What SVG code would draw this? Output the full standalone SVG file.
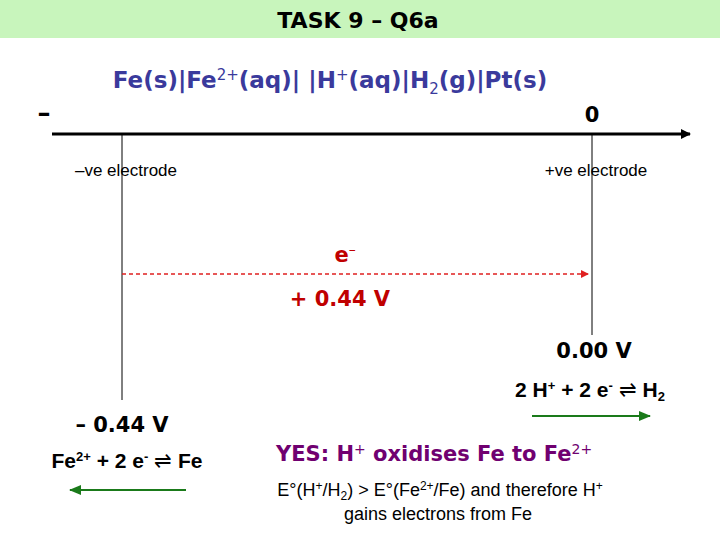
<svg xmlns="http://www.w3.org/2000/svg" width="720" height="540" viewBox="0 0 720 540">
<defs>
<marker id="ab" markerWidth="10" markerHeight="10" refX="9" refY="5" orient="auto" markerUnits="userSpaceOnUse"><path d="M0,0 L10,5 L0,10 z" fill="#000"/></marker>
<marker id="ar" markerWidth="8" markerHeight="8" refX="7" refY="4" orient="auto" markerUnits="userSpaceOnUse"><path d="M0,0 L8,4 L0,8 z" fill="#e02020"/></marker>
<marker id="ag" markerWidth="12" markerHeight="10" refX="11" refY="5" orient="auto" markerUnits="userSpaceOnUse"><path d="M0,0 L12,5 L0,10 z" fill="#1a7a1a"/></marker>
</defs>
<style>
.b{font-family:"DejaVu Sans",Verdana,sans-serif;font-weight:bold}
.a{font-family:"Liberation Sans",Arial,sans-serif}
.n{font-family:"Liberation Sans",Arial,sans-serif;font-weight:bold}
</style>
<rect width="720" height="540" fill="#fff"/>
<rect width="720" height="38" fill="#c8f5bc"/>
<text x="358" y="28" text-anchor="middle" class="b" font-size="22">TASK 9 – Q6a</text>
<text x="330" y="88" text-anchor="middle" class="b" font-size="23" fill="#3a3a9c">Fe(s)|Fe<tspan font-weight="normal" font-size="15" dy="-8">2+</tspan><tspan dy="8">(aq)| |H</tspan><tspan font-weight="normal" font-size="15" dy="-8">+</tspan><tspan dy="8">(aq)|H</tspan><tspan font-weight="normal" font-size="15" dy="6">2</tspan><tspan dy="-6">(g)|Pt(s)</tspan></text>
<text x="44" y="122" text-anchor="middle" class="b" font-size="26">–</text>
<text x="592" y="122" text-anchor="middle" class="b" font-size="21">0</text>
<g id="connectors">
<line x1="52" y1="134" x2="690" y2="134" stroke="#000" stroke-width="3" marker-end="url(#ab)"/>
<line x1="122" y1="134" x2="122" y2="400" stroke="#000" stroke-width="1"/>
<line x1="592" y1="134" x2="592" y2="335" stroke="#000" stroke-width="1"/>
<line x1="122" y1="274" x2="588" y2="274" stroke="#e02020" stroke-width="1.5" stroke-dasharray="4,3" marker-end="url(#ar)"/>
<line x1="532" y1="416" x2="650" y2="416" stroke="#1a7a1a" stroke-width="2" marker-end="url(#ag)"/>
<line x1="186" y1="490" x2="70" y2="490" stroke="#1a7a1a" stroke-width="2" marker-end="url(#ag)"/>
</g>
<g id="neg-electrode"><text x="126" y="176" text-anchor="middle" class="a" font-size="17">–ve electrode</text></g>
<g id="pos-electrode"><text x="596" y="176" text-anchor="middle" class="a" font-size="17">+ve electrode</text></g>
<g id="electron"><text x="345" y="262" text-anchor="middle" class="b" font-size="21" fill="#c00000">e<tspan font-size="14" font-weight="normal" dy="-8">–</tspan></text></g>
<g id="emf"><text x="340" y="306" text-anchor="middle" class="b" font-size="21" fill="#c00000">+ 0.44 V</text></g>
<g id="h-half">
<text x="594" y="358" text-anchor="middle" class="b" font-size="21">0.00 V</text>
<text x="590" y="397" text-anchor="middle" class="n" font-size="21">2 H<tspan font-size="13" dy="-7">+</tspan><tspan dy="7"> + 2 e</tspan><tspan font-size="13" dy="-7">-</tspan><tspan dy="7" font-weight="normal"> ⇌ </tspan> H<tspan font-size="13" dy="4">2</tspan></text>
</g>
<g id="fe-half">
<text x="122" y="432" text-anchor="middle" class="b" font-size="21">– 0.44 V</text>
<text x="127" y="468" text-anchor="middle" class="n" font-size="21">Fe<tspan font-size="13" dy="-7">2+</tspan><tspan dy="7"> + 2 e</tspan><tspan font-size="13" dy="-7">-</tspan><tspan dy="7" font-weight="normal"> ⇌ </tspan> Fe</text>
</g>
<g id="conclusion">
<text x="276" y="461" class="b" font-size="21" fill="#700070">YES:  H<tspan font-weight="normal" font-size="14" dy="-7">+</tspan><tspan dy="7"> oxidises Fe to Fe</tspan><tspan font-weight="normal" font-size="14" dy="-7">2+</tspan></text>
<text x="440" y="496" text-anchor="middle" class="a" font-size="18">E°(H<tspan font-size="12" dy="-6">+</tspan><tspan dy="6">/H</tspan><tspan font-size="12" dy="4">2</tspan><tspan dy="-4">) &gt; E°(Fe</tspan><tspan font-size="12" dy="-6">2+</tspan><tspan dy="6">/Fe) and therefore H</tspan><tspan font-size="12" dy="-6">+</tspan></text>
<text x="438" y="520" text-anchor="middle" class="a" font-size="18">gains electrons from Fe</text>
</g>
</svg>
